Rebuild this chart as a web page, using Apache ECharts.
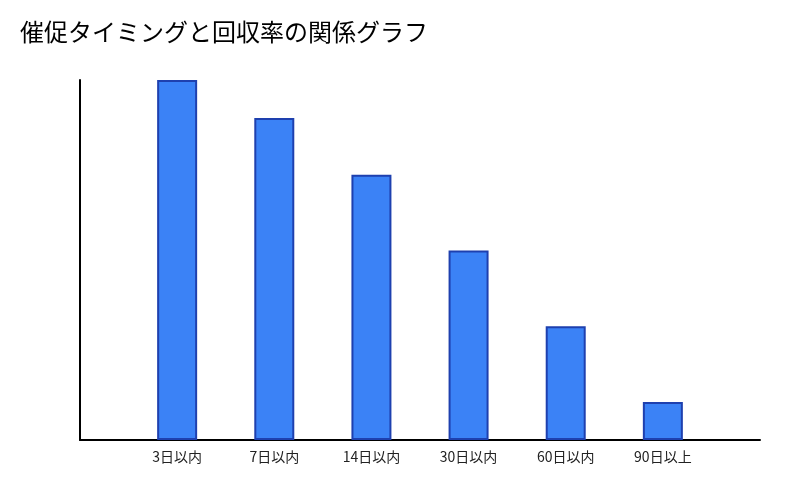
<!DOCTYPE html>
<html>
<head>
<meta charset="utf-8">
<script src="https://cdn.jsdelivr.net/npm/echarts@6/dist/echarts.min.js"></script>
<style>html,body{margin:0;padding:0;background:#fff}#c{width:800px;height:500px}</style>
</head>
<body>
<div id="c"></div>
<script>
const categories = ['3日以内', '7日以内', '14日以内', '30日以内', '60日以内', '90日以上'];
const recoveryRates = [95, 85, 70, 50, 30, 10];
const titleText = '催促タイミングと回収率の関係グラフ';

const chart = echarts.init(document.getElementById('c'));
const font = '"Noto Sans CJK JP", "Noto Sans", sans-serif';
chart.setOption({
  animation: false,
  backgroundColor: '#ffffff',
  title: {
    text: titleText,
    left: 15,
    top: 15,
    textStyle: { fontFamily: font, fontSize: 24, fontWeight: 'normal', color: '#000' }
  },
  grid: { left: 80, right: 40, top: 80, bottom: 60, containLabel: false },
  xAxis: {
    type: 'value',
    min: 0,
    max: categories.length + 1,
    interval: 1,
    splitLine: { show: false },
    axisTick: { show: false },
    axisLine: { show: true, lineStyle: { color: '#000', width: 2 } },
    axisLabel: {
      margin: 10,
      fontFamily: font,
      fontSize: 14,
      color: '#222',
      showMinLabel: false,
      showMaxLabel: false,
      formatter: v => categories[v - 1] || ''
    }
  },
  yAxis: {
    type: 'value',
    min: 0,
    max: Math.max(...recoveryRates),
    splitLine: { show: false },
    axisTick: { show: false },
    axisLabel: { show: false },
    axisLine: { show: true, lineStyle: { color: '#000', width: 2 } }
  },
  series: [{
    type: 'bar',
    barWidth: 40,
    data: recoveryRates.map((v, i) => [i + 1, v]),
    itemStyle: { color: '#3b82f6', borderColor: '#1e40af', borderWidth: 2 }
  }]
});
</script>
</body>
</html>
